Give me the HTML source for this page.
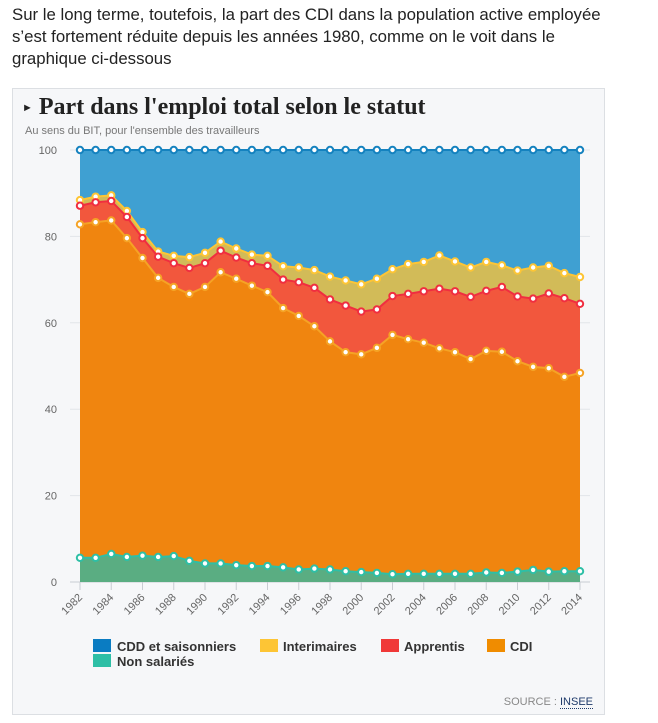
<!DOCTYPE html>
<html><head><meta charset="utf-8">
<style>
body{margin:0;background:#fff;width:658px;height:723px;overflow:hidden;font-family:"Liberation Sans",sans-serif;}
#intro{position:absolute;left:12px;top:4px;width:600px;font-size:16.8px;line-height:22px;color:#222;margin:0;}
#card{position:absolute;left:12px;top:88px;width:593px;height:627px;background:#f6f7f9;border:1px solid #dcdfe3;box-sizing:border-box;}
#title{position:absolute;left:22px;top:94px;font-family:"Liberation Serif",serif;font-weight:bold;font-size:24px;letter-spacing:0px;color:#222;}
#sub{position:absolute;left:25px;top:125px;font-size:11px;color:#777;}
svg{position:absolute;left:0;top:0;}
.leg{position:absolute;font-size:13px;font-weight:bold;color:#333;}
.sw{position:absolute;width:18px;height:13px;}
#src{position:absolute;right:65px;top:696px;font-size:11px;color:#888;}
#src span{color:#1e3a6a;border-bottom:1px dotted #1e3a6a;}
</style></head><body>
<p id="intro">Sur le long terme, toutefois, la part des CDI dans la population active employée s’est fortement réduite depuis les années 1980, comme on le voit dans le graphique ci-dessous</p>
<div id="card"></div>
<div id="title"><span style="font-size:11px;vertical-align:3px">►</span> Part dans l'emploi total selon le statut</div>
<div id="sub">Au sens du BIT, pour l'ensemble des travailleurs</div>
<svg id="chart" width="658" height="723"></svg>
<div class="sw" style="left:93px;top:639px;background:#0a7cc2"></div>
<div class="leg" style="left:117px;top:639px">CDD et saisonniers</div>
<div class="sw" style="left:260px;top:639px;background:#fdc535"></div>
<div class="leg" style="left:283px;top:639px">Interimaires</div>
<div class="sw" style="left:381px;top:639px;background:#f03838"></div>
<div class="leg" style="left:404px;top:639px">Apprentis</div>
<div class="sw" style="left:487px;top:639px;background:#f08c00"></div>
<div class="leg" style="left:510px;top:639px">CDI</div>
<div class="sw" style="left:93px;top:654px;background:#2ebfa6"></div>
<div class="leg" style="left:117px;top:654px">Non salariés</div>
<div id="src">SOURCE : <span>INSEE</span></div>
<script>
// cumulative shares (%) – top boundary of each stacked series
const years=[1982,1983,1984,1985,1986,1987,1988,1989,1990,1991,1992,1993,1994,1995,1996,1997,1998,1999,2000,2001,2002,2003,2004,2005,2006,2007,2008,2009,2010,2011,2012,2013,2014];
const nonSalaries=[5.6,5.6,6.5,5.8,6.1,5.8,6.0,4.9,4.3,4.3,3.9,3.7,3.7,3.4,2.9,3.1,2.9,2.5,2.3,2.1,1.8,1.9,1.9,1.9,1.9,1.9,2.2,2.1,2.4,2.8,2.4,2.5,2.5];
const cdiTop=[82.8,83.3,83.7,79.6,75.0,70.4,68.3,66.7,68.3,71.7,70.2,68.6,67.1,63.4,61.6,59.2,55.7,53.2,52.7,54.2,57.2,56.2,55.4,54.1,53.2,51.6,53.5,53.3,51.1,49.8,49.5,47.5,48.4];
const apprentisTop=[87.1,87.9,88.2,84.5,79.6,75.3,73.8,72.7,73.8,76.7,75.1,73.8,73.2,70.0,69.4,68.1,65.4,64.0,62.6,63.1,66.2,66.7,67.3,67.9,67.3,66.0,67.4,68.3,66.1,65.6,66.8,65.7,64.4];
const interimTop=[88.4,89.2,89.5,85.9,81.0,76.5,75.5,75.2,76.2,78.8,77.2,75.8,75.5,73.1,72.8,72.2,70.7,69.8,68.9,70.2,72.4,73.6,74.1,75.6,74.2,72.8,74.1,73.3,72.1,72.8,73.2,71.5,70.6];
const cddTop=years.map(()=>100);
const yTicks=[0,20,40,60,80,100];
const xLabels=[1982,1984,1986,1988,1990,1992,1994,1996,1998,2000,2002,2004,2006,2008,2010,2012,2014];

const svg=document.getElementById('chart');
const NS='http://www.w3.org/2000/svg';
const x0=80,x1=580,y0=582,y1=150;
const X=y=>x0+(y-years[0])/(years[years.length-1]-years[0])*(x1-x0);
const Y=v=>y0-v/100*(y0-y1);
function mk(t,a){const e=document.createElementNS(NS,t);for(const k in a)e.setAttribute(k,a[k]);svg.appendChild(e);return e;}
yTicks.forEach(t=>{
  const g=mk('line',{x1:70,x2:590,y1:Y(t),y2:Y(t),stroke:t===0?'#c8ccd2':'#e2e5e9','stroke-width':1});
  
  
  const l=mk('text',{x:57,y:Y(t)+4,'text-anchor':'end','font-size':11,fill:'#666','font-family':'Liberation Sans'});
  l.textContent=t;
  
  
});
xLabels.forEach(yr=>{
  const tk=mk('line',{x1:X(yr),x2:X(yr),y1:582,y2:590,stroke:'#c8ccd2'});
  
  
  const l=mk('text',{x:X(yr)+3,y:598,'text-anchor':'end','font-size':11,fill:'#666','font-family':'Liberation Sans',transform:`rotate(-45 ${X(yr)+3} 598)`});
  l.textContent=yr;
  
  
});
const layers=[
  {name:'cdd',top:cddTop,bot:interimTop,fill:'#3fa0d2',line:'#1582bf'},
  {name:'interim',top:interimTop,bot:apprentisTop,fill:'#d2bb58',line:'#fdc535'},
  {name:'apprentis',top:apprentisTop,bot:cdiTop,fill:'#f2573d',line:'#f02e40'},
  {name:'cdi',top:cdiTop,bot:nonSalaries,fill:'#f0850f',line:'#f5a325'},
  {name:'non-salaries',top:nonSalaries,bot:years.map(()=>0),fill:'#5aad82',line:'#2ebfa6'}
];
layers.forEach(L=>{
  let d='M'+years.map((yr,i)=>X(yr)+','+Y(L.top[i])).join('L');
  for(let i=years.length-1;i>=0;i--)d+='L'+X(years[i])+','+Y(L.bot[i]);
  const a=mk('path',{d:d+'Z',fill:L.fill});
  
  
});
layers.forEach(L=>{
  const p=mk('polyline',{points:years.map((yr,i)=>X(yr)+','+Y(L.top[i])).join(' '),fill:'none',stroke:L.line,'stroke-width':2});
  
  
  years.forEach((yr,i)=>{
    const c=mk('circle',{cx:X(yr),cy:Y(L.top[i]),r:3.2,fill:'#fff',stroke:L.line,'stroke-width':2});
    
    
  });
});
</script>
</body></html>
